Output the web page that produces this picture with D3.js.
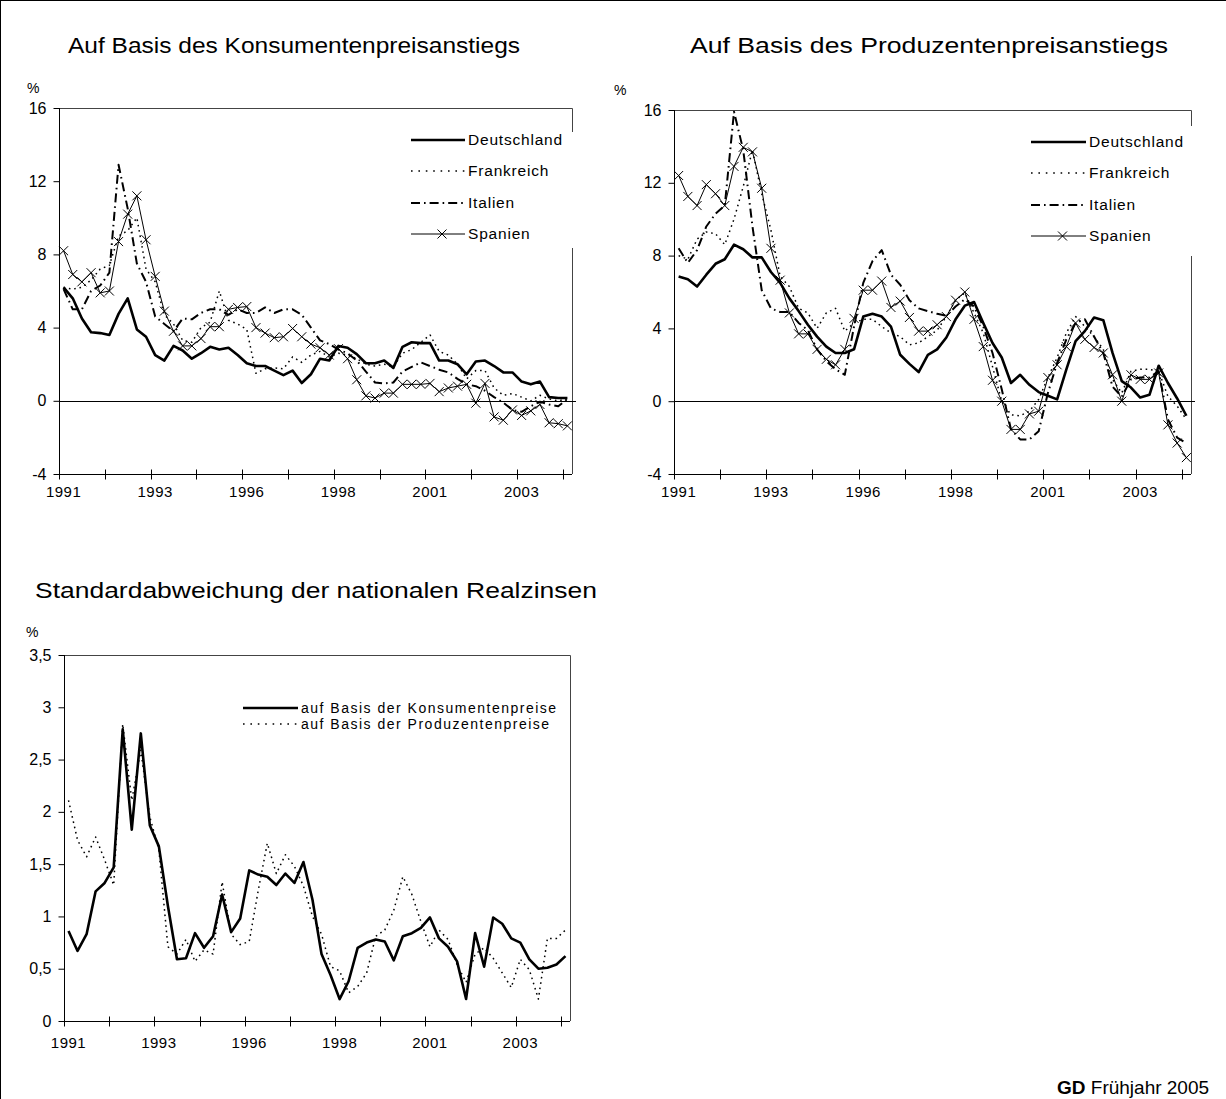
<!DOCTYPE html>
<html>
<head>
<meta charset="utf-8">
<script src="https://cdn.jsdelivr.net/npm/d3@7/dist/d3.min.js"></script>
<style>
  body { margin: 0; background: #fff; }
  svg { display: block; }
  text { font-family: "Liberation Sans", Arial, sans-serif; fill: #000; }
</style>
</head>
<body>
<svg id="chart" width="1226" height="1099"></svg>
<script>
// quarters 1991Q1 .. 2004Q4
var years = [1991, 1992, 1993, 1994, 1995, 1996, 1997, 1998, 1999, 2000, 2001, 2002, 2003, 2004];
var quarters = [];
years.forEach(function (y) {
    ["Q1", "Q2", "Q3", "Q4"].forEach(function (q) { quarters.push(y + q); });
});

var xLabelAt   = ["1991Q1", "1993Q3", "1996Q1", "1998Q3", "2001Q1", "2003Q3"];
var xLabelText = ["1991", "1993", "1996", "1998", "2001", "2003"];
var realTicks  = [-4, 0, 4, 8, 12, 16];
var sdTicks    = [0, 0.5, 1, 1.5, 2, 2.5, 3, 3.5];

var countries = ["Deutschland", "Frankreich", "Italien", "Spanien"];

// real rates, deflated with consumer prices
var deCPI = [6.2, 5.6, 4.5, 3.75, 3.7, 3.6, 4.75, 5.6, 3.9, 3.5, 2.5, 2.2, 3.0, 2.75, 2.3, 2.6,
             2.95, 2.8, 2.9, 2.5, 2.05, 1.9, 1.9, 1.65, 1.4, 1.65, 0.97, 1.45, 2.3, 2.2, 3.0, 2.9,
             2.55, 2.05, 2.05, 2.2, 1.8, 2.95, 3.2, 3.15, 3.15, 2.2, 2.2, 2.0, 1.45, 2.15, 2.2, 1.9,
             1.55, 1.55, 1.05, 0.9, 1.05, 0.2, 0.15, 0.15];
var frCPI = [6.2, 6.1, 6.2, 6.6, 7.2, 7.4, 9.0, 9.3, 10.0, 7.2, 6.5, 4.7, 4.2, 3.3, 3.2, 4.0,
             4.3, 6.0, 4.4, 4.2, 3.9, 1.5, 1.75, 1.8, 1.75, 2.4, 2.1, 2.5, 2.7, 2.4, 2.6, 2.5,
             2.3, 2.0, 1.9, 2.0, 1.85, 2.6, 2.8, 3.2, 3.6, 2.7, 2.5, 2.0, 1.2, 1.65, 1.65, 0.7,
             0.3, 0.4, 0.2, 0.0, 0.3, 0.1, 0.0, 0.1];
var itCPI = [6.1, 5.0, 5.0, 6.0, 6.3, 7.0, 12.9, 10.5, 7.5, 6.5, 4.6, 4.2, 3.8, 4.5, 4.45, 4.8,
             5.0, 5.0, 4.7, 5.0, 4.8, 4.8, 5.1, 4.8, 5.0, 5.0, 4.7, 4.0, 3.3, 3.1, 2.8, 2.6,
             2.2, 1.6, 1.0, 0.95, 1.0, 1.6, 1.85, 2.1, 1.9, 1.7, 1.55, 1.2, 0.9, 0.8, 0.55, 0.2,
             -0.1, -0.5, -0.6, -0.3, -0.05, -0.2, -0.3, 0.1];
var esCPI = [8.2, 6.9, 6.5, 7.0, 5.9, 6.0, 8.7, 10.2, 11.2, 8.8, 6.8, 4.9, 3.8, 3.0, 3.0, 3.4,
             4.05, 4.05, 5.0, 5.1, 5.15, 4.0, 3.7, 3.45, 3.5, 3.95, 3.5, 3.1, 2.9, 2.5, 2.85, 2.3,
             1.15, 0.27, 0.15, 0.42, 0.42, 0.9, 0.9, 0.9, 0.95, 0.5, 0.7, 0.8, 0.9, -0.13, 0.95, -0.88,
             -1.06, -0.5, -0.8, -0.55, -0.2, -1.2, -1.25, -1.37];

// real rates, deflated with producer prices
var dePPI = [6.85, 6.7, 6.3, 6.95, 7.55, 7.8, 8.6, 8.35, 7.9, 7.9, 7.1, 6.5, 5.65, 4.95, 4.2, 3.55,
             3.0, 2.65, 2.65, 2.85, 4.65, 4.8, 4.65, 4.1, 2.55, 2.05, 1.6, 2.55, 2.85, 3.5, 4.5, 5.25,
             5.45, 4.3, 3.2, 2.4, 1.0, 1.45, 0.9, 0.5, 0.3, 0.1, 1.75, 3.3, 3.85, 4.6, 4.45, 2.65,
             1.1, 0.75, 0.2, 0.35, 1.95, 1.0, 0.15, -0.8];
var frPPI = [8.0, 7.8, 8.9, 9.3, 9.2, 8.6, 10.0, 11.8, 13.8, 11.4, 9.4, 6.85, 6.3, 5.1, 4.85, 4.0,
             4.85, 5.1, 3.85, 4.3, 4.5, 4.5, 4.1, 3.75, 3.55, 3.1, 3.2, 3.55, 3.9, 4.65, 5.55, 5.95,
             4.85, 3.75, 1.9, 0.0, -0.75, -0.8, -0.55, 0.1, 1.3, 2.4, 3.75, 4.65, 4.1, 3.55, 2.85, 1.2,
             0.45, 1.65, 1.75, 1.75, 1.65, 0.27, -0.27, -1.0];
var itPPI = [8.4, 7.6, 8.3, 9.6, 10.3, 10.75, 15.9, 13.8, 9.6, 6.1, 5.1, 4.9, 4.9, 4.3, 3.9, 2.85,
             2.2, 1.75, 1.45, 4.1, 6.5, 7.7, 8.3, 6.95, 6.4, 5.55, 5.1, 4.95, 4.8, 4.7, 5.2, 5.6,
             5.2, 4.1, 2.65, 0.65, -1.55, -2.1, -2.1, -1.65, 0.45, 2.1, 3.4, 4.3, 4.5, 3.55, 2.65, 0.8,
             0.25, 1.2, 1.3, 1.3, 1.65, -1.0, -2.0, -2.3];
var esPPI = [12.4, 11.25, 10.75, 11.9, 11.4, 10.75, 12.9, 13.95, 13.7, 11.7, 8.4, 6.65, 4.85, 3.7, 3.7, 2.85,
             2.3, 2.0, 2.85, 4.55, 6.1, 6.1, 6.6, 5.15, 5.5, 4.6, 3.85, 3.85, 4.2, 4.65, 5.55, 6.0,
             4.5, 3.0, 1.15, 0.0, -1.55, -1.55, -0.7, -0.55, 1.3, 2.0, 3.0, 4.3, 3.4, 2.95, 2.65, 1.45,
             0.0, 1.45, 1.2, 1.2, 1.55, -1.3, -2.3, -3.1];

// standard deviation of the national real rates
var sdNames = ["auf Basis der Konsumentenpreise", "auf Basis der Produzentenpreise"];
var sdCPI = [0.86, 0.67, 0.83, 1.24, 1.32, 1.47, 2.79, 1.83, 2.75, 1.87, 1.67, 1.1, 0.59, 0.6, 0.84, 0.7,
             0.81, 1.21, 0.85, 0.98, 1.44, 1.4, 1.38, 1.3, 1.41, 1.32, 1.52, 1.16, 0.64, 0.44, 0.21, 0.38,
             0.7, 0.75, 0.78, 0.76, 0.58, 0.81, 0.84, 0.89, 0.99, 0.79, 0.71, 0.57, 0.21, 0.84, 0.52, 0.99,
             0.93, 0.79, 0.75, 0.59, 0.5, 0.51, 0.54, 0.62];
var sdPPI = [2.11, 1.73, 1.57, 1.76, 1.54, 1.3, 2.84, 2.11, 2.59, 1.95, 1.64, 0.71, 0.64, 0.78, 0.57, 0.68,
             0.64, 1.33, 0.83, 0.73, 0.76, 1.25, 1.7, 1.41, 1.59, 1.48, 1.29, 1.0, 0.83, 0.52, 0.48, 0.27,
             0.33, 0.46, 0.81, 0.87, 1.06, 1.38, 1.21, 0.95, 0.71, 0.87, 0.78, 0.54, 0.37, 0.64, 0.7, 0.6,
             0.46, 0.32, 0.59, 0.49, 0.21, 0.79, 0.79, 0.87];

// line styles
var styles = {
    solidBold: { width: 2.6, dash: null },
    dotted:    { width: 1.5, dash: "1.6,3.8" },
    dashDot:   { width: 2,   dash: "9,4,1.6,4" },
    cross:     { width: 1,   dash: null, marker: true }
};
var countryStyle = [styles.solidBold, styles.dotted, styles.dashDot, styles.cross];

var svg = d3.select("#chart");

// outer frame
svg.append("rect").attr("x", 0.5).attr("y", 0.5).attr("width", 1240).attr("height", 1120)
    .attr("fill", "none").attr("stroke", "#000");

function fmtInt(v) { return String(v); }              // plain hyphen for negatives
function fmtComma(v) { return String(v).replace(".", ","); }

function drawPanel(o) {
    var g = svg.append("g");
    var x = d3.scalePoint().domain(quarters).range([o.x0, o.x1]).padding(0.5);
    var y = d3.scaleLinear().domain(o.domain).range([o.yBot, o.yTop]);
    var step = x.step();

    // title and unit
    g.append("text").attr("x", o.title[1]).attr("y", o.title[2])
        .attr("font-size", 22).attr("textLength", o.title[3])
        .attr("lengthAdjust", "spacingAndGlyphs").text(o.title[0]);
    g.append("text").attr("x", o.pct[0]).attr("y", o.pct[1]).attr("font-size", 14).text("%");

    // frame top / right
    g.append("path").attr("d", "M" + o.x0 + "," + (o.yTop + 0.5) + "H" + (o.x1 + 0.5) + "V" + o.yBot)
        .attr("fill", "none").attr("stroke", "#444").attr("stroke-width", 1);

    // y axis
    var yAx = d3.axisLeft(y).tickValues(o.yTicks).tickSize(6).tickPadding(7).tickFormat(o.fmt);
    var ya = g.append("g").attr("transform", "translate(" + (o.x0 + 0.5) + ",0)").call(yAx);
    ya.select(".domain").attr("d", "M0," + o.yTop + "V" + o.yBot);
    ya.selectAll("text").attr("font-size", 16)
        .style("font-family", "'Liberation Sans', Arial, sans-serif");

    // zero line
    if (o.zero) {
        g.append("line").attr("x1", o.x0).attr("x2", o.x1 + 4)
            .attr("y1", Math.round(y(0)) + 0.5).attr("y2", Math.round(y(0)) + 0.5)
            .attr("stroke", "#000");
    }

    // x axis with ticks on every 5th category boundary
    var yb = Math.round(o.yBot) + 0.5;
    g.append("line").attr("x1", o.x0).attr("x2", o.x1).attr("y1", yb).attr("y2", yb).attr("stroke", "#000");
    quarters.forEach(function (q, i) {
        if (i % 5 === 0) {
            var tx = Math.round(x(q) - step / 2) + 0.5;
            g.append("line").attr("x1", tx).attr("x2", tx).attr("y1", yb - 5).attr("y2", yb + 5)
                .attr("stroke", "#000");
        }
    });
    xLabelAt.forEach(function (q, i) {
        g.append("text").attr("x", x(q)).attr("y", o.yBot + o.labelDy).attr("text-anchor", "middle")
            .attr("font-size", 15).attr("letter-spacing", 0.5).text(xLabelText[i]);
    });

    // series
    o.series.forEach(function (s) {
        var line = d3.line().x(function (d, i) { return x(quarters[i]); }).y(function (d) { return y(d); });
        g.append("path").datum(s.data).attr("d", line).attr("fill", "none")
            .attr("stroke", "#000").attr("stroke-width", s.style.width)
            .attr("stroke-dasharray", s.style.dash).attr("stroke-linejoin", "round");
        if (s.style.marker) {
            g.selectAll(null).data(s.data).enter().append("path")
                .attr("d", function (d, i) {
                    var cx = x(quarters[i]), cy = y(d), r = 4.5;
                    return "M" + (cx - r) + "," + (cy - r) + "L" + (cx + r) + "," + (cy + r) +
                           "M" + (cx - r) + "," + (cy + r) + "L" + (cx + r) + "," + (cy - r);
                })
                .attr("stroke", "#000").attr("stroke-width", 1);
        }
    });

    // legend
    var L = o.legend;
    if (L.box) {
        g.append("rect").attr("x", L.box[0]).attr("y", L.box[1]).attr("width", L.box[2]).attr("height", L.box[3])
            .attr("fill", "#fff");
    }
    o.series.forEach(function (s, i) {
        var ly = L.ys[i];
        g.append("line").attr("x1", L.x1).attr("x2", L.x2).attr("y1", ly).attr("y2", ly)
            .attr("stroke", "#000").attr("stroke-width", s.style.width)
            .attr("stroke-dasharray", s.style.dash === styles.dotted.dash ? "1.6,5.8" : s.style.dash);
        if (s.style.marker) {
            var cx = (L.x1 + L.x2) / 2 + 4, r = 4.5;
            g.append("path").attr("d", "M" + (cx - r) + "," + (ly - r) + "L" + (cx + r) + "," + (ly + r) +
                "M" + (cx - r) + "," + (ly + r) + "L" + (cx + r) + "," + (ly - r)).attr("stroke", "#000");
        }
        g.append("text").attr("x", L.x2 + 3).attr("y", ly).attr("dy", "0.35em")
            .attr("font-size", L.size).attr("letter-spacing", L.spacing).text(s.name);
    });
}

drawPanel({
    x0: 59, x1: 572, yTop: 108, yBot: 474, domain: [-4, 16], yTicks: realTicks, fmt: fmtInt,
    zero: true, labelDy: 23,
    title: ["Auf Basis des Konsumentenpreisanstiegs", 68, 53, 452],
    pct: [27, 93],
    series: [deCPI, frCPI, itCPI, esCPI].map(function (d, i) {
        return { name: countries[i], data: d, style: countryStyle[i] };
    }),
    legend: { x1: 411, x2: 465, ys: [140, 171, 203, 234], size: 15.5, spacing: 0.8, box: [405, 132, 175, 116] }
});

drawPanel({
    x0: 674, x1: 1191, yTop: 110, yBot: 474, domain: [-4, 16], yTicks: realTicks, fmt: fmtInt,
    zero: true, labelDy: 23,
    title: ["Auf Basis des Produzentenpreisanstiegs", 690, 53, 478],
    pct: [614, 95],
    series: [dePPI, frPPI, itPPI, esPPI].map(function (d, i) {
        return { name: countries[i], data: d, style: countryStyle[i] };
    }),
    legend: { x1: 1031, x2: 1086, ys: [142, 173, 205, 236], size: 15.5, spacing: 0.8, box: [1025, 126, 180, 130] }
});

drawPanel({
    x0: 64, x1: 570, yTop: 655, yBot: 1021, domain: [0, 3.5], yTicks: sdTicks, fmt: fmtComma,
    zero: false, labelDy: 27,
    title: ["Standardabweichung der nationalen Realzinsen", 35, 598, 562],
    pct: [26, 637],
    series: [
        { name: sdNames[0], data: sdCPI, style: styles.solidBold },
        { name: sdNames[1], data: sdPPI, style: styles.dotted }
    ],
    legend: { x1: 243, x2: 298, ys: [708, 724], size: 14, spacing: 1.5, box: null }
});

// source note
var foot = svg.append("text").attr("x", 1057).attr("y", 1094).attr("font-size", 19);
foot.append("tspan").attr("font-weight", "bold").text("GD");
foot.append("tspan").text(" Frühjahr 2005");
</script>
</body>
</html>
